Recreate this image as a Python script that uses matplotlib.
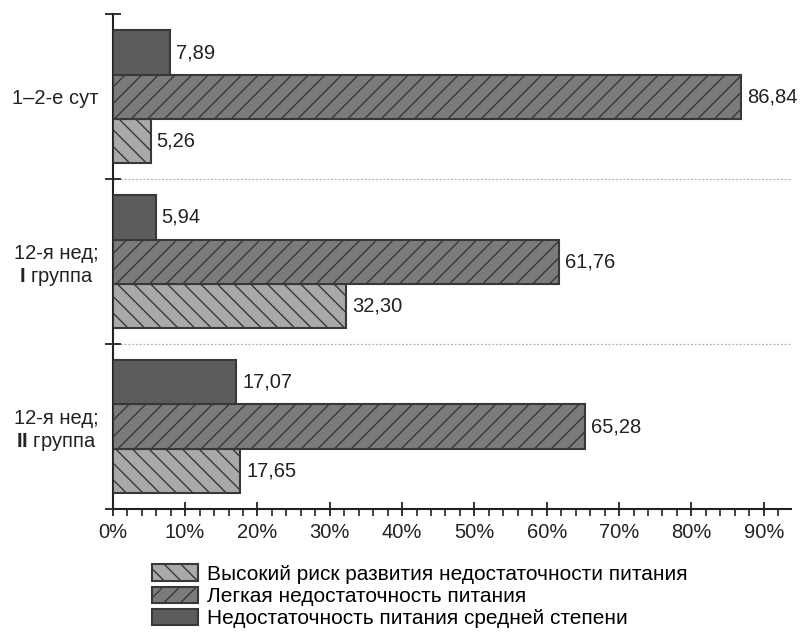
import matplotlib
matplotlib.use("Agg")
import matplotlib.pyplot as plt
import numpy as np
from matplotlib.patches import Patch
from matplotlib.ticker import MultipleLocator, FixedLocator, FuncFormatter

plt.rcParams['font.family'] = ['Liberation Sans', 'DejaVu Sans']
plt.rcParams['mathtext.fontset'] = 'custom'
plt.rcParams['mathtext.rm'] = 'Liberation Sans'
plt.rcParams['mathtext.bf'] = 'Liberation Sans:bold'
plt.rcParams['hatch.linewidth'] = 1.0

# Groups, top to bottom
groups = ["1–2-е сут", "12-я нед;\n$\\mathbf{I}$ группа", "12-я нед;\n$\\mathbf{II}$ группа"]

# Series values, %
high_risk = [5.26, 32.30, 17.65]     # Высокий риск развития недостаточности питания
mild = [86.84, 61.76, 65.28]         # Легкая недостаточность питания
moderate = [7.89, 5.94, 17.07]       # Недостаточность питания средней степени

series_labels = [
    "Высокий риск развития недостаточности питания",
    "Легкая недостаточность питания",
    "Недостаточность питания средней степени",
]

x_ticks = [0, 10, 20, 30, 40, 50, 60, 70, 80, 90]

fig = plt.figure(figsize=(8, 6.4), dpi=100)
ax = fig.add_axes([0.141, 0.2047, 0.848, 0.7733])

edge = "#383838"
styles = [
    dict(color="#a9a9a9", hatch="\\\\"),
    dict(color="#7b7b7b", hatch="//"),
    dict(color="#5c5c5c", hatch=""),
]
data = [high_risk, mild, moderate]

n = len(groups)
centers = np.arange(n)[::-1].astype(float)   # top group has the highest y
h = 0.267
offsets = [-h, 0.0, h]                       # bottom, middle, top bar in a group

for vals, st, off in zip(data, styles, offsets):
    ys = centers + off
    ax.barh(ys, vals, height=h, facecolor=st["color"], edgecolor=edge,
            hatch=st["hatch"], linewidth=1.5, zorder=3)
    for y, v in zip(ys, vals):
        ax.text(v + 0.8, y, f"{v:.2f}".replace(".", ","), va="center",
                ha="left", fontsize=14.5, color="#222222", zorder=4)

ax.set_xlim(0, 93.8)
ax.set_ylim(-0.5, n - 0.5)

# x axis
ax.xaxis.set_major_locator(FixedLocator(x_ticks))
ax.xaxis.set_minor_locator(MultipleLocator(2))
ax.xaxis.set_major_formatter(FuncFormatter(lambda v, p: f"{v:.0f}%"))
ax.tick_params(axis="x", which="major", direction="inout", length=10,
               width=1.3, labelsize=14.5, pad=5, colors="#222222")
ax.tick_params(axis="x", which="minor", direction="out", length=5,
               width=1.2, colors="#222222")

# y axis: boundary ticks and centred group labels
bounds = np.arange(-0.5, n, 1.0)
ax.yaxis.set_major_locator(FixedLocator(bounds))
ax.yaxis.set_major_formatter(FuncFormatter(lambda v, p: ""))
ax.yaxis.set_minor_locator(FixedLocator(centers))
ax.set_yticks(centers, groups, minor=True)
ax.tick_params(axis="y", which="major", direction="inout", length=12,
               width=1.3, colors="#222222")
ax.tick_params(axis="y", which="minor", length=0, labelsize=14.5, pad=10,
               colors="#222222")
for lbl in ax.get_yticklabels(minor=True):
    lbl.set_multialignment("center")

for b in bounds[1:-1]:
    ax.axhline(b, color="#b0b0b0", linestyle=(0, (1.5, 1.5)), linewidth=0.9,
               zorder=1)

for side in ["top", "right"]:
    ax.spines[side].set_visible(False)
for side in ["left", "bottom"]:
    ax.spines[side].set_linewidth(1.5)
    ax.spines[side].set_color("#222222")

handles = [Patch(facecolor=st["color"], edgecolor=edge, hatch=st["hatch"],
                 linewidth=1.5) for st in styles]
fig.legend(handles, series_labels, loc="upper left",
           bbox_to_anchor=(0.19, 0.118), frameon=False, fontsize=15,
           handlelength=2.2, handleheight=0.85, handletextpad=0.42,
           labelspacing=0.12, borderpad=0, borderaxespad=0)

fig.savefig("out.png", dpi=100)
